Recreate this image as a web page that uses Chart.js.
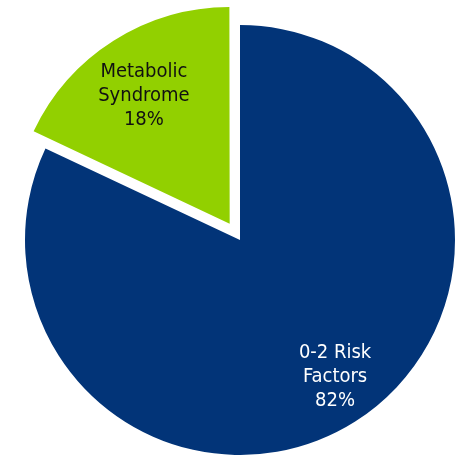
<!DOCTYPE html>
<html>
<head>
<meta charset="utf-8">
<script src="https://cdn.jsdelivr.net/npm/chart.js@4/dist/chart.umd.min.js"></script>
<style>
  html, body { margin: 0; padding: 0; background: #fff; }
  #wrap { width: 460px; height: 455px; }
</style>
</head>
<body>
<div id="wrap"><canvas id="myChart"></canvas></div>
<script>
var labels = [['0-2 Risk', 'Factors'], ['Metabolic', 'Syndrome']];
var shares = [82, 18];
var colors = ['#023478', '#92d000'];
var textColors = ['#ffffff', '#111111'];
// where each label sits: fraction of radius out, and turn (deg) off the slice middle
var labelDist = [0.775, 0.707];
var labelTurn = [-2.4, -1.5];

// same shift ArcElement applies for its offset option
function arcShift(arc, off) {
    var circ = arc.endAngle - arc.startAngle;
    var fix = 1 - Math.sin(Math.min(Math.PI, circ || 0));
    return off / 4 * (1 + fix);
}

var sliceLabels = {
    id: 'sliceLabels',
    afterDatasetsDraw: function (chart) {
        var c = chart.ctx;
        var meta = chart.getDatasetMeta(0);
        c.save();
        c.font = '20px "DejaVu Sans Condensed", "DejaVu Sans", sans-serif';
        c.textAlign = 'center';
        c.textBaseline = 'middle';
        meta.data.forEach(function (arc, i) {
            var p = arc.getProps(['x', 'y', 'startAngle', 'endAngle', 'outerRadius']);
            var mid = (p.startAngle + p.endAngle) / 2;
            var shift = arcShift(p, arc.options.offset || 0);
            // slice apex after the offset
            var ax = p.x + Math.cos(mid) * shift;
            var ay = p.y + Math.sin(mid) * shift;
            var a = mid + labelTurn[i] * Math.PI / 180;
            var r = p.outerRadius * labelDist[i];
            var cx = ax + Math.cos(a) * r;
            var cy = ay + Math.sin(a) * r;
            var lines = labels[i].concat([shares[i] + '%']);
            c.fillStyle = textColors[i];
            for (var k = 0; k < lines.length; k++) {
                c.fillText(lines[k], cx, cy + (k - 1) * 24);
            }
        });
        c.restore();
    }
};

var ctx = document.getElementById('myChart');
var myChart = new Chart(ctx, {
    type: 'pie',
    data: {
        labels: labels.map(function (l) { return l.join(' '); }),
        datasets: [{
            data: shares,
            backgroundColor: colors,
            borderWidth: 0,
            offset: [0, 77]
        }]
    },
    options: {
        responsive: true,
        maintainAspectRatio: false,
        animation: false,
        radius: 215,
        layout: { padding: { left: 20, right: 0, top: 25, bottom: 0 } },
        plugins: {
            legend: { display: false },
            tooltip: { enabled: false }
        }
    },
    plugins: [sliceLabels]
});
</script>
</body>
</html>
